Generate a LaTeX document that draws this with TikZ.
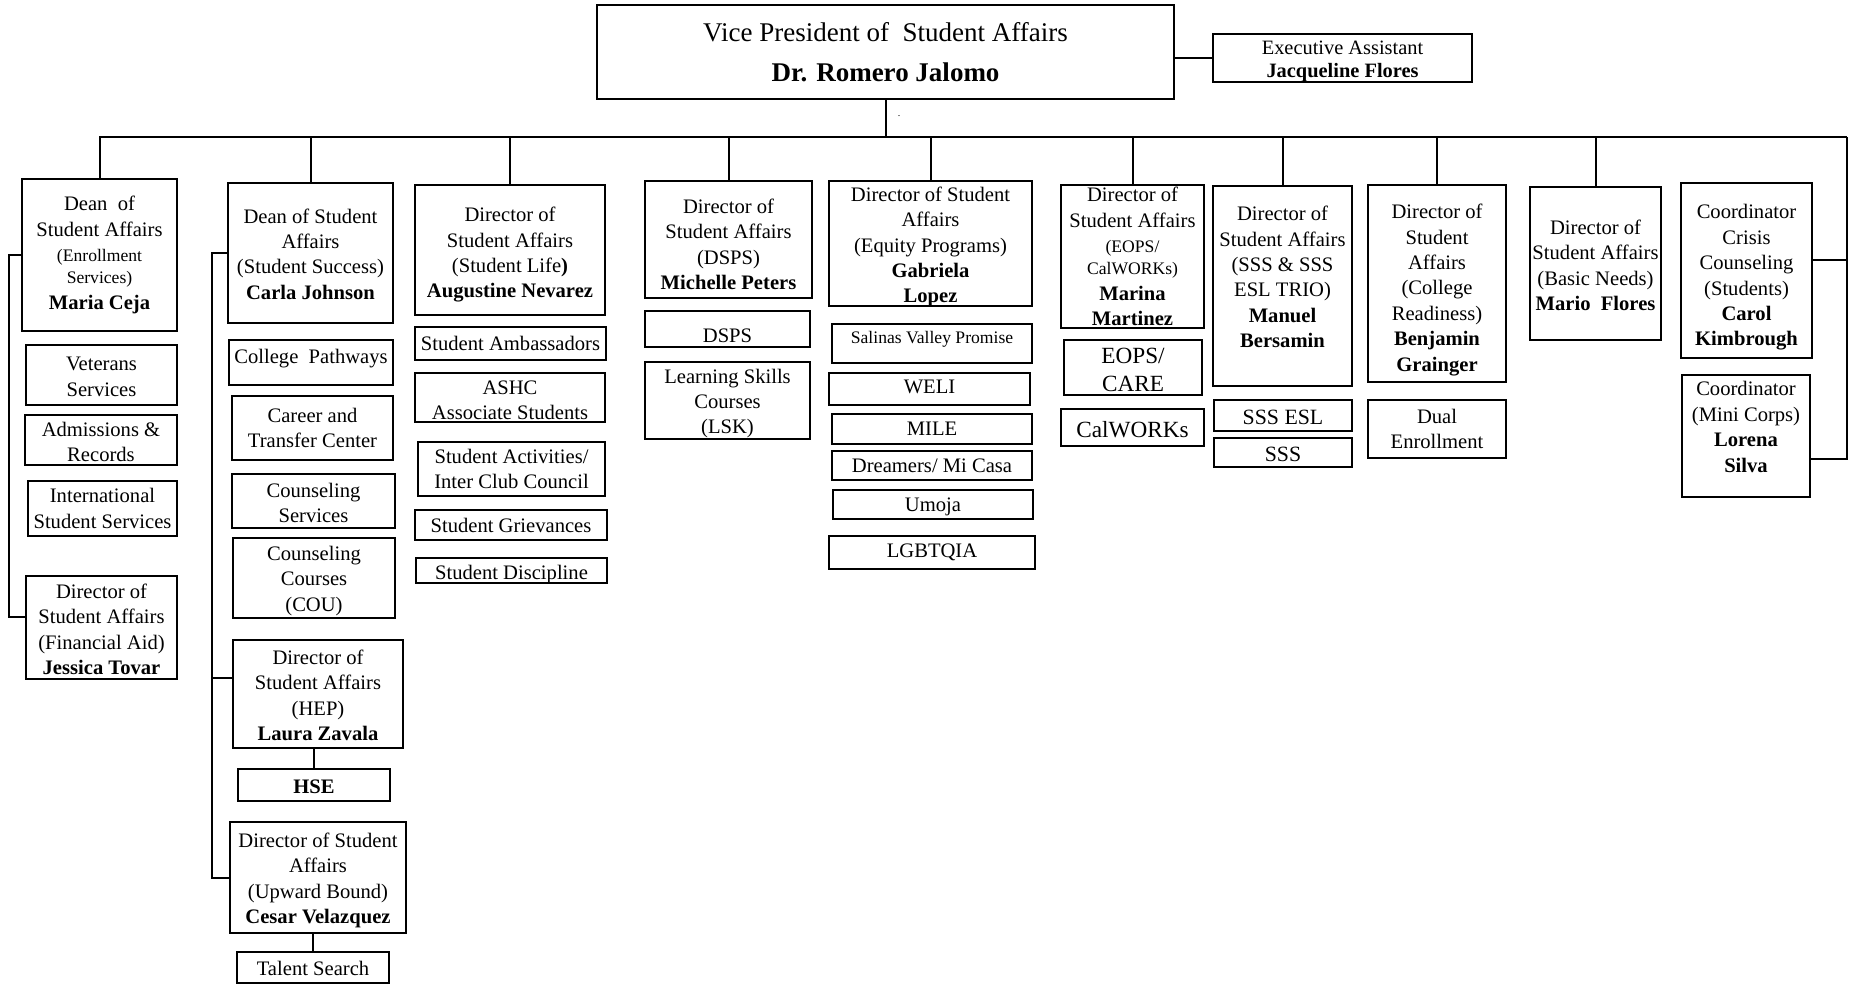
\documentclass[tikz,border=0pt]{standalone}
\usepackage{fontspec}
\setmainfont{Liberation Serif}
\newcommand\fsreg{\fontsize{10.3}{12.7}\selectfont}
\newcommand\fssmall{\fontsize{8.8}{10.8}\selectfont}
\newcommand\fsmid{\fontsize{10.9}{13}\selectfont}
\newcommand\fsbig{\fontsize{11.6}{14}\selectfont}
\newcommand\fstop{\fontsize{13.5}{20}\selectfont}
\newcommand\fsasst{\fontsize{10.2}{11.8}\selectfont}
\tikzset{
  box/.style={draw, line width=1pt, inner sep=0pt, outer sep=0pt},
  txt/.style={inner sep=0pt, align=center, font=\fsreg},
  conn/.style={line width=1pt},
}
% \obox[text options]{name}{x1}{y1}{x2}{y2}{text}: framed box given by its corners
\newcommand\obox[7][]{%
  \pgfmathsetmacro\bw{(#5-#3)/2}%
  \pgfmathsetmacro\bh{(#6-#4)/2}%
  \node[box, minimum width=\bw pt, minimum height=\bh pt] (#2) at ({(#3+#5)/2},{(#4+#6)/2}) {};%
  \node[txt, #1] (#2-t) at (#2.center) {#7};%
}
\begin{document}
\begin{tikzpicture}[x=0.5pt, y=-0.5pt]
\fill[white] (0,0) rectangle (1855,988);
\useasboundingbox (0,0) rectangle (1855,988);

% top level
\obox[font=\fstop]{vp}{597}{5}{1174}{99}{Vice President of~ Student Affairs\\\textbf{Dr. Romero Jalomo}}
\obox[font=\fsasst, yshift=-1.75pt]{ea}{1213}{34}{1472}{82}{Executive Assistant\\\textbf{Jacqueline Flores}}
\node[font=\fontsize{5}{6}\selectfont, inner sep=0pt] (dot) at (899,116) {.};

% enrollment services
\obox{d1}{22}{179}{177}{331}{Dean~ of\\Student Affairs\\{\fssmall(Enrollment}\\[-1.5pt]{\fssmall Services)}\\\textbf{Maria Ceja}}
\obox[yshift=-1pt]{vet}{26}{345}{177}{405}{Veterans\\Services}
\obox[yshift=-1pt]{adm}{25}{415}{177}{465}{Admissions \&\\Records}
\obox{int}{28}{481}{177}{536}{International\\Student Services}
\obox[yshift=-1pt]{fa}{26}{576}{177}{679}{Director of\\Student Affairs\\(Financial Aid)\\\textbf{Jessica Tovar}}

% student success
\obox[yshift=-0.5pt]{d2}{228}{183}{393}{323}{Dean of Student\\Affairs\\(Student Success)\\\textbf{Carla Johnson}}
\obox[yshift=2pt]{cp}{229}{340}{393}{385}{College~ Pathways}
\obox{ctc}{232}{396}{393}{460}{Career and\\Transfer Center}
\obox[yshift=-1pt]{cs}{232}{474}{395}{528}{Counseling\\Services}
\obox[yshift=-1.5pt]{cc}{233}{538}{395}{618}{Counseling\\Courses\\(COU)}
\obox[yshift=-0.7pt]{hep}{233}{640}{403}{748}{Director of\\Student Affairs\\(HEP)\\\textbf{Laura Zavala}}
\obox[yshift=-1pt]{hse}{238}{769}{390}{801}{\textbf{HSE}}
\obox[yshift=-1.5pt]{ub}{230}{822}{406}{933}{Director of Student\\Affairs\\ (Upward Bound)\\\textbf{Cesar Velazquez}}
\obox[yshift=-0.5pt]{ts}{237}{952}{389}{983}{Talent Search}

% student life
\obox[yshift=-2.4pt]{d3}{415}{185}{605}{315}{Director of\\Student Affairs\\(Student Life\textbf{)}\\\textbf{Augustine Nevarez}}
\obox{amb}{415}{327}{606}{360}{Student Ambassadors}
\obox[yshift=-1.5pt]{ashc}{415}{373}{605}{422}{ASHC\\Associate Students}
\obox{sa}{418}{442}{605}{496}{Student Activities/\\Inter Club Council}
\obox{sg}{415}{510}{607}{540}{Student Grievances}
\obox[yshift=-2pt]{sd}{416}{558}{607}{583}{Student Discipline}

% DSPS
\obox[yshift=-2.5pt]{d4}{645}{181}{812}{298}{Director of\\Student Affairs\\(DSPS)\\\textbf{Michelle Peters}}
\obox[yshift=-3.5pt]{dsps}{645}{311}{810}{347}{DSPS}
\obox[yshift=-1.5pt]{lsk}{645}{362}{810}{439}{Learning Skills\\Courses\\(LSK)}

% equity programs
\obox[yshift=-1.75pt]{d5}{829}{181}{1032}{306}{Director of Student\\Affairs\\(Equity Programs)\\\textbf{Gabriela}\\\textbf{Lopez}}
\obox[font=\fssmall, yshift=2.25pt]{svp}{832}{324}{1032}{363}{Salinas Valley Promise}
\obox[yshift=1pt]{weli}{829}{373}{1030}{405}{WELI}
\obox{mile}{832}{414}{1032}{444}{MILE}
\obox{drm}{832}{451}{1032}{480}{Dreamers/ Mi Casa}
\obox[yshift=-1pt]{umo}{833}{490}{1033}{519}{Umoja}
\obox{lgb}{829}{536}{1035}{569}{LGBTQIA}

% EOPS / CalWORKs
\obox{d6}{1061}{185}{1204}{328}{Director of\\Student Affairs\\{\fssmall(EOPS/}\\[-1.5pt]{\fssmall CalWORKs)}\\\textbf{Marina}\\\textbf{Martinez}}
\obox[font=\fsbig, yshift=-1pt]{eops}{1064}{340}{1202}{395}{EOPS/\\CARE}
\obox[font=\fsbig, yshift=-1pt]{calw}{1061}{409}{1204}{446}{CalWORKs}

% SSS TRIO
\obox[yshift=4.5pt]{d7}{1213}{186}{1352}{386}{Director of\\Student Affairs\\(SSS \& SSS\\ESL TRIO)\\\textbf{Manuel}\\\textbf{Bersamin}}
\obox[font=\fsmid, yshift=-1pt]{sssesl}{1214}{400}{1352}{431}{SSS ESL}
\obox[font=\fsmid, yshift=-1pt]{sss}{1214}{438}{1352}{467}{SSS}

% college readiness
\obox[yshift=-3.25pt]{d8}{1368}{185}{1506}{382}{Director of\\Student\\Affairs\\(College\\Readiness)\\\textbf{Benjamin}\\\textbf{Grainger}}
\obox{dual}{1368}{400}{1506}{458}{Dual\\Enrollment}

% basic needs
\obox[yshift=-1pt]{d9}{1530}{187}{1661}{340}{Director of\\Student Affairs\\(Basic Needs)\\\textbf{Mario~ Flores}}

% coordinators
\obox[yshift=-3.5pt]{d10}{1681}{183}{1812}{358}{Coordinator\\Crisis\\Counseling\\(Students)\\\textbf{Carol}\\\textbf{Kimbrough}}
\obox[yshift=4.5pt]{d11}{1682}{375}{1810}{497}{Coordinator\\(Mini Corps)\\\textbf{Lorena}\\\textbf{Silva}}

% connectors
\coordinate (busL) at (99,137);
\coordinate (busR) at (1847,137);
\draw[conn] (vp.east |- ea.west) -- (ea.west);
\draw[conn] (vp.south) -- (vp.south |- busL);
\draw[conn] (busL) -- (busR);
\foreach \n in {d1,d2,d3,d4,d5,d6,d7,d8,d9}
  \draw[conn] (\n.north |- busL) -- (\n.north);
\coordinate (t10) at ([yshift=5.25pt]d10.east);
\coordinate (t11) at ([yshift=-11.5pt]d11.east);
\draw[conn] (busR) |- (t11);
\draw[conn] (t10) -- (t10 -| busR);

\coordinate (lb1) at (9,0);
\coordinate (tfa) at ([yshift=5.5pt]fa.west);
\draw[conn] (d1.west) -| (lb1 |- tfa) -- (tfa);

\coordinate (lb2) at (212,0);
\coordinate (thep) at ([yshift=8pt]hep.west);
\draw[conn] (d2.west) -| (lb2 |- ub.west) -- (ub.west);
\draw[conn] (thep) -- (thep -| lb2);
\draw[conn] (hse.north |- hep.south) -- (hse.north);
\draw[conn] (ts.north |- ub.south) -- (ts.north);
\end{tikzpicture}
\end{document}
